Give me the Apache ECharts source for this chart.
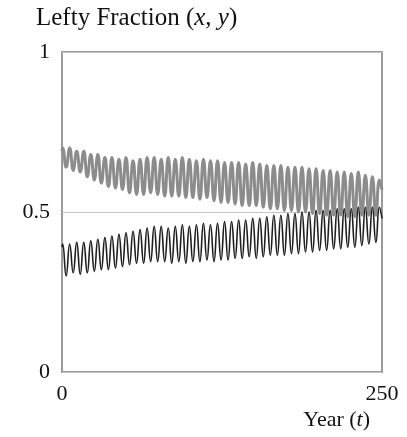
<!DOCTYPE html>
<html>
<head>
<meta charset="utf-8">
<script src="https://cdn.jsdelivr.net/npm/echarts@6/dist/echarts.min.js"></script>
<style>
  html, body { margin: 0; padding: 0; background: #fff; }
  #main { width: 407px; height: 437px; }
</style>
</head>
<body>
<div id="main"></div>
<script>
    // years at which the curves turn (peaks / troughs)
    var years = [0, 0.5, 3.25, 6, 8.75, 11.5, 14.25, 17, 19.75, 22.5,
        25.25, 28, 30.75, 33.5, 36.25, 39, 41.75, 44.5, 47.25, 50,
        52.75, 55.5, 58.25, 61, 63.75, 66.5, 69.25, 72, 74.75, 77.5,
        80.25, 83, 85.75, 88.5, 91.25, 94, 96.75, 99.5, 102.25, 105,
        107.75, 110.5, 113.25, 116, 118.75, 121.5, 124.25, 127, 129.75, 132.5,
        135.25, 138, 140.75, 143.5, 146.25, 149, 151.75, 154.5, 157.25, 160,
        162.75, 165.5, 168.25, 171, 173.75, 176.5, 179.25, 182, 184.75, 187.5,
        190.25, 193, 195.75, 198.5, 201.25, 204, 206.75, 209.5, 212.25, 215,
        217.75, 220.5, 223.25, 226, 228.75, 231.5, 234.25, 237, 239.75, 242.5,
        245.25, 248, 250];

    // upper (gray) curve, x
    var grayVals = [0.69, 0.70, 0.64, 0.70, 0.63, 0.69, 0.625, 0.69, 0.61, 0.68,
        0.60, 0.68, 0.59, 0.67, 0.58, 0.67, 0.575, 0.665, 0.57, 0.67,
        0.56, 0.66, 0.555, 0.665, 0.555, 0.67, 0.56, 0.67, 0.555, 0.665,
        0.55, 0.67, 0.55, 0.665, 0.55, 0.67, 0.545, 0.665, 0.545, 0.66,
        0.54, 0.665, 0.545, 0.66, 0.535, 0.66, 0.53, 0.655, 0.53, 0.655,
        0.525, 0.655, 0.52, 0.65, 0.52, 0.655, 0.52, 0.65, 0.515, 0.645,
        0.51, 0.645, 0.51, 0.645, 0.505, 0.64, 0.505, 0.64, 0.50, 0.64,
        0.50, 0.635, 0.495, 0.635, 0.495, 0.63, 0.49, 0.63, 0.49, 0.625,
        0.49, 0.625, 0.485, 0.62, 0.485, 0.625, 0.49, 0.615, 0.49, 0.61,
        0.49, 0.60, 0.57];

    // lower (black) curve, y
    var blackVals = [0.39, 0.40, 0.30, 0.40, 0.31, 0.405, 0.305, 0.405, 0.31, 0.41,
        0.315, 0.415, 0.32, 0.42, 0.32, 0.425, 0.325, 0.43, 0.33, 0.435,
        0.335, 0.44, 0.34, 0.445, 0.34, 0.45, 0.345, 0.455, 0.345, 0.455,
        0.345, 0.45, 0.34, 0.455, 0.345, 0.46, 0.34, 0.455, 0.345, 0.46,
        0.345, 0.465, 0.35, 0.46, 0.345, 0.465, 0.35, 0.47, 0.35, 0.47,
        0.355, 0.475, 0.355, 0.475, 0.36, 0.48, 0.355, 0.48, 0.36, 0.485,
        0.365, 0.49, 0.365, 0.49, 0.365, 0.495, 0.37, 0.495, 0.37, 0.50,
        0.375, 0.50, 0.375, 0.505, 0.38, 0.505, 0.38, 0.505, 0.385, 0.51,
        0.385, 0.51, 0.39, 0.51, 0.39, 0.515, 0.395, 0.515, 0.40, 0.515,
        0.405, 0.515, 0.48];

    var yTicks = [0, 0.5, 1];
    var xTicks = [0, 250];

    function pairs(xs, ys) {
        var out = [];
        for (var i = 0; i < xs.length; i++) {
            out.push([xs[i], ys[i]]);
        }
        return out;
    }

    var serif = 'Liberation Serif';
    function richText(size) {
        return {
            n: { fontFamily: serif, fontSize: size, color: '#111', fontWeight: 'normal' },
            i: { fontFamily: serif, fontSize: size, color: '#111', fontWeight: 'normal', fontStyle: 'italic' }
        };
    }
    var myChart = echarts.init(document.getElementById('main'));

    myChart.setOption({
        backgroundColor: '#fff',
        animation: false,
        title: [{
            text: '{n|Lefty Fraction (}{i|x}{n|, }{i|y}{n|)}',
            left: 31,
            top: 1,
            textStyle: { fontWeight: 'normal', rich: richText(25) }
        }, {
            text: '{n|Year (}{i|t}{n|)}',
            right: 32,
            top: 404,
            textStyle: { fontWeight: 'normal', rich: richText(22) }
        }],
        grid: {
            left: 62,
            right: 25,
            top: 52,
            bottom: 65,
            show: true,
            borderColor: '#9a9a9a',
            borderWidth: 2
        },
        xAxis: {
            type: 'value',
            min: xTicks[0],
            max: xTicks[1],
            interval: 250,
            axisLine: { show: false },
            axisTick: { show: false },
            splitLine: { show: false },
            axisLabel: {
                margin: 11,
                fontFamily: serif,
                fontSize: 22,
                color: '#111'
            }
        },
        yAxis: {
            type: 'value',
            min: yTicks[0],
            max: yTicks[2],
            interval: 0.5,
            axisLine: { show: false },
            axisTick: { show: false },
            splitLine: {
                show: true,
                lineStyle: { color: '#c4c4c4', width: 1 }
            },
            axisLabel: {
                margin: 12,
                fontFamily: serif,
                fontSize: 22,
                color: '#111'
            }
        },
        series: [{
            name: 'x',
            type: 'line',
            data: pairs(years, grayVals),
            smooth: true,
            showSymbol: false,
            lineStyle: { color: '#8c8c8c', width: 3 }
        }, {
            name: 'y',
            type: 'line',
            data: pairs(years, blackVals),
            smooth: true,
            showSymbol: false,
            lineStyle: { color: '#1e1e1e', width: 1.6 }
        }]
    });
</script>
</body>
</html>
